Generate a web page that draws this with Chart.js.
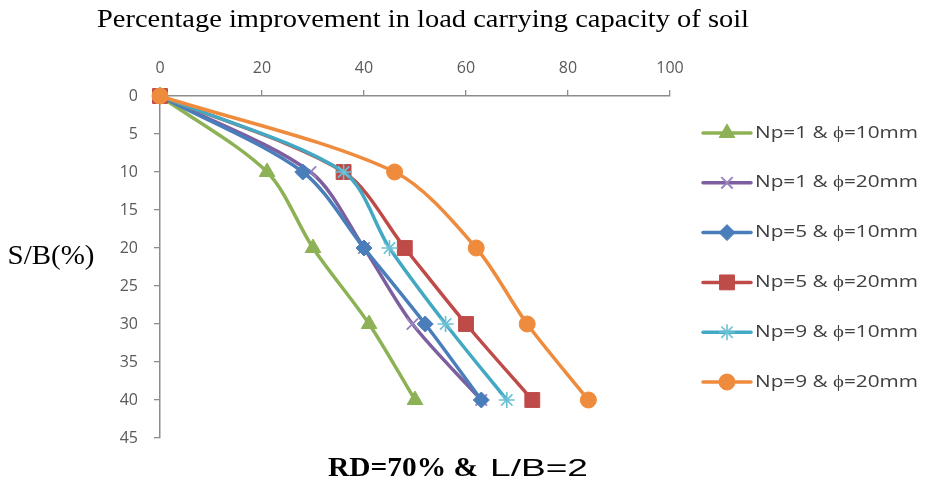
<!DOCTYPE html>
<html>
<head>
<meta charset="utf-8">
<script src="https://cdn.jsdelivr.net/npm/chart.js@4/dist/chart.umd.min.js"></script>
<style>
  html, body { margin: 0; padding: 0; background: #fff; }
  #wrap { width: 934px; height: 488px; position: relative; }
</style>
</head>
<body>
<div id="wrap"><canvas id="c" width="934" height="488"></canvas></div>
<script>
// Settlement ratio S/B (%) at which each reading was taken
const settlement = [0, 10, 20, 30, 40];

// Percentage improvement in load carrying capacity for each configuration
const np1d10 = [0, 21, 30, 41, 50];
const np1d20 = [0, 29.5, 40, 49.5, 63];
const np5d10 = [0, 28, 40, 52, 63];
const np5d20 = [0, 36, 48, 60, 73];
const np9d10 = [0, 36, 45, 56, 68];
const np9d20 = [0, 46, 62, 72, 84];

const seriesNames = [
  'Np=1 & ϕ=10mm', 'Np=1 & ϕ=20mm', 'Np=5 & ϕ=10mm',
  'Np=5 & ϕ=20mm', 'Np=9 & ϕ=10mm', 'Np=9 & ϕ=20mm'
];
const seriesValues = [np1d10, np1d20, np5d10, np5d20, np9d10, np9d20];

const xTicks = [0, 20, 40, 60, 80, 100];
const yTicks = [0, 5, 10, 15, 20, 25, 30, 35, 40, 45];

const titleText = 'Percentage improvement in load carrying capacity of soil';
const yTitleText = 'S/B(%)';
const captionBold = 'RD=70% &';
const captionPlain = 'L/B=2';

// styling per series
const styles = [
  { color: '#8DB255', point: 'triangle', radius: 9, pbw: 1, pColor: '#8DB255' },
  { color: '#7D5FA0', point: 'crossRot', radius: 8, pbw: 2, pColor: '#9A84BE' },
  { color: '#4A7EBB', point: 'rectRot', radius: 8, pbw: 1, pColor: '#4A7EBB' },
  { color: '#BE4B48', point: 'rect', radius: 10.5, pbw: 1, pColor: '#BE4B48' },
  { color: '#43A9C3', point: 'star', radius: 8, pbw: 1.6, pColor: '#6CC0D6' },
  { color: '#EF8B3D', point: 'circle', radius: 8, pbw: 1, pColor: '#EF8B3D' }
];

const datasets = seriesValues.map((vals, i) => ({
  label: seriesNames[i],
  data: vals.map((v, k) => ({ x: v, y: settlement[k] })),
  borderColor: styles[i].color,
  backgroundColor: styles[i].pColor,
  borderWidth: 3.5,
  pointStyle: styles[i].point,
  pointRadius: styles[i].radius,
  pointHoverRadius: styles[i].radius,
  pointBackgroundColor: styles[i].pColor,
  pointBorderColor: styles[i].pColor,
  pointBorderWidth: styles[i].pbw,
  tension: 0.3,
  fill: false,
  clip: false,
  order: seriesValues.length - i
}));

// Draw a text string squeezed/stretched horizontally to a given width
function drawFitted(ctx, text, font, cx, cy, width, align) {
  ctx.save();
  ctx.font = font;
  ctx.textBaseline = 'middle';
  const w = ctx.measureText(text).width;
  const sx = width ? width / w : 1;
  ctx.translate(cx, cy);
  ctx.scale(sx, 1);
  ctx.textAlign = align || 'center';
  ctx.fillText(text, 0, 0);
  ctx.restore();
}

function marker(ctx, st, x, y) {
  ctx.save();
  ctx.fillStyle = st.pColor;
  ctx.strokeStyle = st.pColor;
  ctx.lineWidth = st.pbw;
  if (Chart.helpers && Chart.helpers.drawPoint) {
    Chart.helpers.drawPoint(ctx, { pointStyle: st.point, radius: st.radius, rotation: 0, borderWidth: st.pbw }, x, y);
  } else {
    ctx.beginPath(); ctx.arc(x, y, st.radius, 0, Math.PI * 2); ctx.fill();
  }
  ctx.restore();
}

const decorations = {
  id: 'decorations',
  afterDraw(chart) {
    const ctx = chart.ctx;
    ctx.save();
    ctx.fillStyle = '#000';
    // title
    drawFitted(ctx, titleText, '25px "Liberation Serif"', 423, 20, 652);
    // vertical axis caption
    drawFitted(ctx, yTitleText, '27px "Liberation Serif"', 51, 257, 87);
    // bottom caption
    drawFitted(ctx, captionBold, 'bold 27px "Liberation Serif"', 328, 469, 150, 'left');
    drawFitted(ctx, captionPlain, '24px "Liberation Sans"', 490, 469, 98, 'left');

    // legend
    const x0 = 703, x1 = 751, tx = 755, y0 = 133, step = 49.8;
    ctx.font = '16px "Open Sans"';
    const baseW = ctx.measureText(seriesNames[0]).width;
    const sx = 163 / baseW;
    styles.forEach((st, i) => {
      const y = y0 + i * step;
      ctx.save();
      ctx.strokeStyle = st.color;
      ctx.lineWidth = 3.5;
      ctx.lineCap = 'round';
      ctx.beginPath(); ctx.moveTo(x0, y); ctx.lineTo(x1, y); ctx.stroke();
      ctx.restore();
      marker(ctx, st, (x0 + x1) / 2, y);
      ctx.save();
      ctx.fillStyle = '#404040';
      ctx.font = '16px "Open Sans"';
      ctx.textBaseline = 'middle';
      ctx.translate(tx, y);
      ctx.scale(sx, 1);
      ctx.fillText(seriesNames[i], 0, 0);
      ctx.restore();
    });
    ctx.restore();
  }
};

const axisColor = '#8C8C8C';
const tickFont = { family: '"Open Sans"', size: 16 };

new Chart(document.getElementById('c'), {
  type: 'line',
  data: { datasets },
  options: {
    responsive: false,
    animation: false,
    events: [],
    layout: { padding: { left: 100, right: 264, top: 50, bottom: 50 } },
    plugins: { legend: { display: false }, tooltip: { enabled: false }, title: { display: false } },
    scales: {
      x: {
        type: 'linear',
        position: 'top',
        min: xTicks[0],
        max: xTicks[xTicks.length - 1],
        afterBuildTicks(s) { s.ticks = xTicks.map(v => ({ value: v })); },
        afterFit(s) { s.height = 46; },
        ticks: { color: '#5A5A5A', font: tickFont, padding: 12, maxRotation: 0 },
        grid: { drawOnChartArea: false, drawTicks: true, tickLength: 6, color: axisColor, lineWidth: 1.3 },
        border: { color: axisColor, width: 1.5 }
      },
      y: {
        type: 'linear',
        reverse: true,
        min: yTicks[0],
        max: yTicks[yTicks.length - 1],
        afterBuildTicks(s) { s.ticks = yTicks.map(v => ({ value: v })); },
        afterFit(s) { s.width = 60; },
        ticks: { color: '#5A5A5A', font: tickFont, padding: 16 },
        grid: { drawOnChartArea: false, drawTicks: true, tickLength: 6, color: axisColor, lineWidth: 1.3 },
        border: { color: axisColor, width: 1.5 }
      }
    }
  },
  plugins: [decorations]
});
</script>
</body>
</html>
